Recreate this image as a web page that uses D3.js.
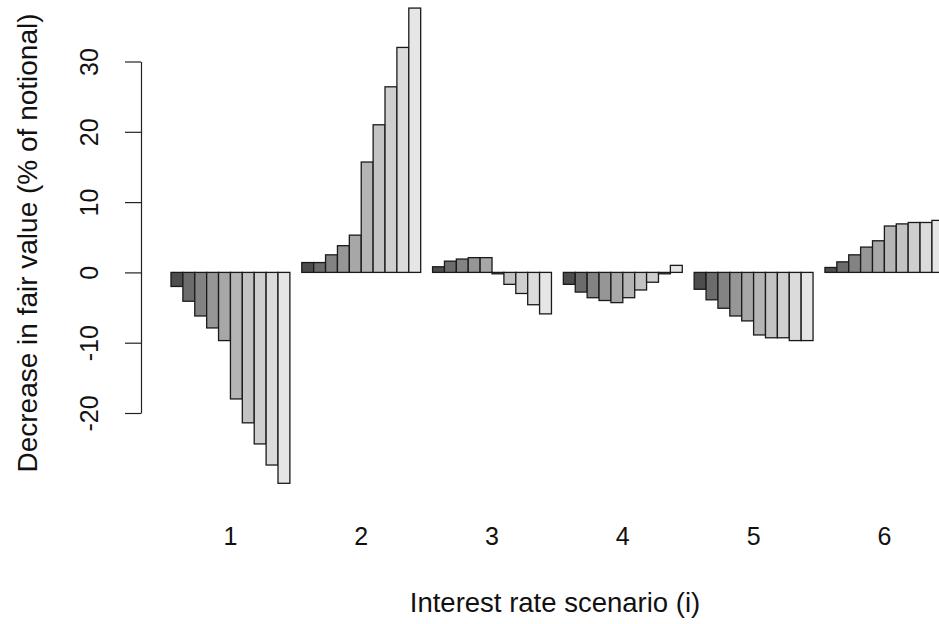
<!DOCTYPE html>
<html>
<head>
<meta charset="utf-8">
<script src="https://cdn.jsdelivr.net/npm/d3@7"></script>
<style>
  body { margin: 0; background: #fff; }
  text { font-family: "Liberation Sans", Arial, sans-serif; }
</style>
</head>
<body>
<script>
// scenario labels and the 10 bars of each group
var scenarios = ["1", "2", "3", "4", "5", "6"];
var scen1 = [-2.0, -4.1, -6.2, -7.9, -9.7, -18.0, -21.4, -24.4, -27.4, -30.0];
var scen2 = [1.4, 1.4, 2.5, 3.8, 5.3, 15.7, 21.0, 26.4, 32.0, 37.6];
var scen3 = [0.8, 1.6, 1.9, 2.1, 2.1, -0.2, -1.7, -3.0, -4.6, -5.9];
var scen4 = [-1.7, -2.8, -3.6, -4.0, -4.3, -3.6, -2.5, -1.4, -0.2, 1.0];
var scen5 = [-2.4, -3.9, -5.1, -6.2, -6.9, -8.9, -9.3, -9.3, -9.7, -9.7];
var scen6 = [0.7, 1.5, 2.5, 3.6, 4.5, 6.6, 6.9, 7.1, 7.1, 7.4];
var yTicks = [-20, -10, 0, 10, 20, 30];

var groups = [scen1, scen2, scen3, scen4, scen5, scen6];
var greys = ["#4d4d4d", "#6c6c6c", "#838383", "#969696", "#a7a7a7",
             "#b5b5b5", "#c3c3c3", "#cfcfcf", "#dbdbdb", "#e6e6e6"];

var width = 939, height = 624;
var svg = d3.select("body").append("svg")
  .attr("width", width)
  .attr("height", height);

// R barplot layout: each bar one unit, one unit of space before every group
var nBar = 10;
var xScale = d3.scaleLinear()
  .domain([0, 66])
  .range([159.1, 159.1 + 66 * 11.89]);

var yScale = d3.scaleLinear()
  .domain([-20, 30])
  .range([413.0, 61.5]);

// flatten into bar records
var bars = [];
groups.forEach(function(vals, g) {
  vals.forEach(function(v, j) {
    bars.push({ g: g, j: j, v: v, u: g * (nBar + 1) + 1 + j });
  });
});

svg.append("g")
  .selectAll("rect")
  .data(bars)
  .enter().append("rect")
  .attr("x", function(d) { return xScale(d.u); })
  .attr("width", function(d) { return xScale(d.u + 1) - xScale(d.u); })
  .attr("y", function(d) { return yScale(Math.max(0, d.v)); })
  .attr("height", function(d) { return Math.abs(yScale(d.v) - yScale(0)); })
  .attr("fill", function(d) { return greys[d.j]; })
  .attr("stroke", "#1a1a1a")
  .attr("stroke-width", 1.3);

// y axis (plain hyphen for negatives, like R)
var yAxis = svg.append("g")
  .attr("transform", "translate(141,0)")
  .call(d3.axisLeft(yScale).tickValues(yTicks).tickSize(16).tickSizeOuter(0)
    .tickFormat(function(d) { return String(d); }));
yAxis.select(".domain").attr("stroke", "#222").attr("stroke-width", 1.2);
yAxis.selectAll(".tick line").attr("stroke", "#222").attr("stroke-width", 1.2);
yAxis.selectAll(".tick text")
  .attr("transform", "rotate(-90)")
  .attr("x", 0)
  .attr("y", -43)
  .attr("dy", 0)
  .attr("text-anchor", "middle")
  .attr("fill", "#111")
  .attr("font-size", 25)
  .attr("font-family", "Liberation Sans, Arial, sans-serif");

// group names under the bars
svg.append("g")
  .selectAll("text")
  .data(scenarios)
  .enter().append("text")
  .attr("x", function(d, i) { return xScale(i * (nBar + 1) + 1 + nBar / 2); })
  .attr("y", 545)
  .attr("text-anchor", "middle")
  .attr("font-size", 25)
  .attr("fill", "#111")
  .text(function(d) { return d; });

// axis titles
svg.append("text")
  .attr("x", 555)
  .attr("y", 612)
  .attr("text-anchor", "middle")
  .attr("font-size", 27.5)
  .attr("fill", "#111")
  .text("Interest rate scenario (i)");

svg.append("text")
  .attr("transform", "translate(37,243) rotate(-90)")
  .attr("text-anchor", "middle")
  .attr("font-size", 28)
  .attr("fill", "#111")
  .text("Decrease in fair value (% of notional)");
</script>
</body>
</html>
